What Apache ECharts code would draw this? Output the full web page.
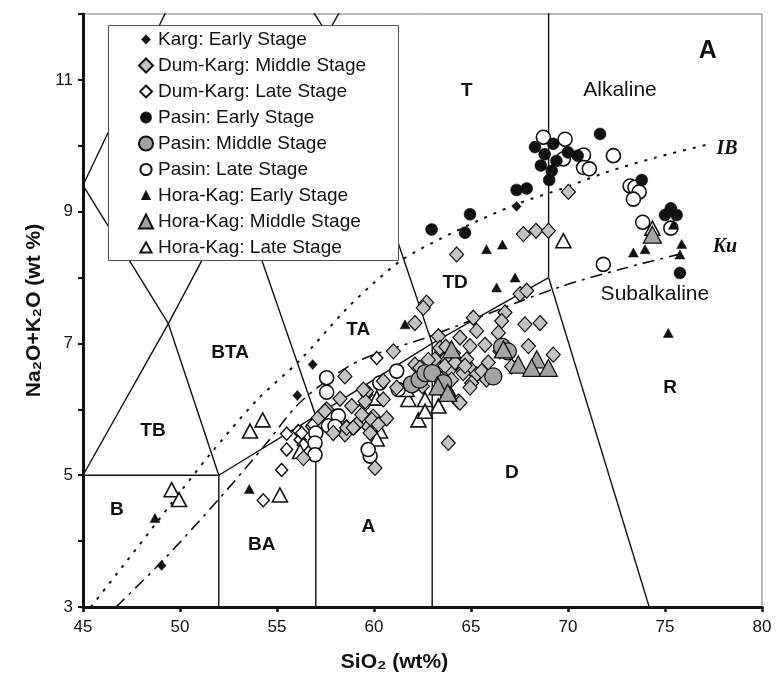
<!DOCTYPE html>
<html><head><meta charset="utf-8">
<script src="https://cdn.jsdelivr.net/npm/echarts@6/dist/echarts.min.js"></script>
<style>html,body{margin:0;padding:0;background:#fff}#c{width:778px;height:681px}</style>
</head><body><div id="c"></div>
<script>
// ---------- DATA ----------
const xTicks = [45, 50, 55, 60, 65, 70, 75, 80];
const yTicks = [3, 5, 7, 9, 11];

const kargEarly = [[49.05,3.63],[56.05,6.21],[56.84,6.68],[67.35,9.08]];

const dumKargMiddle = [[70.02,9.30],[67.70,8.66],[68.35,8.71],[68.99,8.71],[64.26,8.35],[62.71,7.62],[62.54,7.54],
 [67.53,7.75],[67.87,7.80],[62.11,7.31],[65.12,7.39],[65.29,7.19],[66.75,7.47],[66.58,7.34],[66.41,7.16],[67.78,7.29],
 [68.56,7.31],[63.32,7.11],[64.43,7.09],[64.95,6.96],[65.72,6.98],[67.96,6.96],[69.24,6.83],[63.40,6.93],[63.66,6.76],
 [64.26,6.71],[64.78,6.76],[65.03,6.60],[65.29,6.53],[65.55,6.58],[65.89,6.71],[65.80,6.45],[65.03,6.40],[64.95,6.33],
 [63.92,6.60],[63.32,6.63],[63.14,6.76],[63.40,6.48],[64.35,6.12],[66.49,6.88],[67.09,6.65],[63.83,5.49],[64.43,6.10],
 [61.00,6.88],[58.50,6.50],[58.85,6.05],[59.62,6.27],[59.54,6.12],[60.48,6.15],[59.96,5.89],[60.65,5.86],[59.71,5.74],
 [59.02,5.74],[58.50,5.62],[58.25,6.16],[59.37,5.92],[59.88,5.84],[60.22,5.77],[59.11,5.77],[58.59,5.72],[57.56,6.00],
 [57.13,5.87],[62.11,6.68],[60.48,6.43],[61.17,6.33],[59.45,6.30],[57.47,5.97],[59.80,5.64],[60.05,5.11],[58.93,5.72],
 [57.90,5.64],[56.36,5.26],[62.37,6.63],[63.70,6.95],[64.10,6.85],[64.60,6.55],[64.00,6.45],[62.80,6.75],[62.50,6.35],
 [63.66,6.66],[64.18,6.71],[64.69,6.66]];

const dumKargLate = [[54.29,4.62],[55.24,5.08],[55.50,5.39],[55.50,5.63],[56.10,5.67],[56.19,5.54],[60.14,6.78],
 [59.62,6.22],[59.54,6.07],[58.59,5.74],[56.27,5.64],[56.36,5.46],[56.79,5.74],[56.86,5.77]];

const pasinEarly = [[71.65,10.18],[68.30,9.98],[69.24,10.03],[68.80,9.87],[68.60,9.70],[69.40,9.77],[69.16,9.62],
 [69.03,9.48],[70.00,9.90],[70.50,9.85],[67.35,9.33],[67.87,9.35],[73.80,9.48],[75.77,8.07],[75.00,8.95],[75.60,8.95],
 [75.30,9.05],[62.97,8.73],[64.95,8.96],[64.69,8.68]];

const pasinMiddle = [[61.95,6.38],[62.35,6.45],[62.65,6.55],[63.00,6.55],[63.57,6.40],[66.15,6.50],[66.60,6.95],[66.90,6.88]];

const pasinLate = [[68.73,10.13],[69.85,10.10],[69.76,9.80],[70.80,9.86],[70.80,9.67],[71.10,9.65],[72.34,9.85],
 [73.20,9.39],[73.45,9.37],[73.67,9.30],[73.37,9.19],[73.85,8.84],[71.82,8.20],[75.30,8.75],[57.56,6.48],[57.56,6.26],
 [61.17,6.58],[60.30,6.40],[61.25,6.30],[58.16,5.90],[57.65,5.75],[57.00,5.64],[56.96,5.49],[56.96,5.31],[59.80,5.29],
 [59.70,5.39],[57.99,5.74]];

const horaEarly = [[73.37,8.38],[73.97,8.43],[75.86,8.51],[75.77,8.35],[67.27,8.00],[66.62,8.50],[75.43,8.80],
 [65.80,8.43],[66.32,7.85],[75.17,7.16],[61.60,7.29],[48.71,4.35],[53.57,4.79]];

const horaMiddle = [[64.00,6.91],[67.44,6.68],[68.39,6.76],[68.13,6.63],[68.99,6.63],[66.67,6.91],[63.30,6.35],
 [63.80,6.25],[74.35,8.65]];

const horaLate = [[49.57,4.78],[49.95,4.63],[53.61,5.67],[54.26,5.84],[55.15,4.70],[56.19,5.36],[60.14,6.17],
 [60.31,5.67],[60.14,5.55],[61.77,6.15],[62.29,5.84],[62.63,6.15],[62.63,5.97],[63.32,6.05],[63.40,6.33],[63.83,6.30],
 [61.68,6.30],[69.76,8.56],[74.35,8.75]];

// TAS field boundaries (Le Bas et al. 1986)
const tasLines = [
 [[45,5],[52,5],[57,5.9],[63,7],[69,8]],
 [[52,3],[52,5]],
 [[57,3],[57,5.9]],
 [[63,3],[63,7]],
 [[69,8],[69,13]],
 [[69,8],[77.3,0]],
 [[45,5],[49.4,7.3],[53,9.3],[57.6,11.7],[61,13.5]],
 [[52,5],[49.4,7.3],[45,9.4]],
 [[57,5.9],[53,9.3],[48.4,11.5]],
 [[63,7],[57.6,11.7],[52.5,14]],
 [[45,9.4],[48.4,11.5],[52.5,14]]
];
// Irvine & Baragar (IB) and Kuno (Ku) divides
const ibCurve = [[45.4,3.0],[47,3.6],[49.5,4.55],[51.5,5.3],[54,6.15],[56.2,6.75],[58.5,7.5],[60,7.92],[61.5,8.28],
 [63.5,8.6],[65.5,8.88],[67.5,9.13],[69.7,9.35],[72,9.6],[74.5,9.82],[77.2,10.02]];
const kuCurve = [[46.7,3.0],[49.1,3.7],[52.1,4.67],[54.5,5.5],[56,6.05],[57.5,6.42],[59.4,6.76],[62.7,7.09],
 [65,7.35],[69.5,7.85],[73,8.15],[76.1,8.38]];

const fieldNames = ['B','TB','BA','A','BTA','TA','TD','D','R','T'];
const fieldAnchors = [[46.74,4.48],[48.61,5.67],[54.21,3.94],[59.71,4.22],[52.58,6.86],[59.19,7.21],[64.18,7.92],[67.1,5.03],[75.26,6.33],[64.78,10.84]];
const seriesNames = ['Karg: Early Stage','Dum-Karg: Middle Stage','Dum-Karg: Late Stage','Pasin: Early Stage',
 'Pasin: Middle Stage','Pasin: Late Stage','Hora-Kag: Early Stage','Hora-Kag: Middle Stage','Hora-Kag: Late Stage'];

// ---------- CHART ----------
const SANS = "'Liberation Sans', Arial, sans-serif";
const SERIF = "'Liberation Serif','Times New Roman',serif";
const INK = '#111';
const chart = echarts.init(document.getElementById('c'), null, {renderer:'canvas'});

const series = [];
tasLines.forEach(pl => series.push({type:'line', data:pl, symbol:'none', silent:true, z:1,
  lineStyle:{color:INK, width:1.4}, animation:false}));
series.push({type:'line', data:ibCurve, symbol:'none', smooth:0.3, silent:true, z:1,
  lineStyle:{color:INK, width:2, type:[3,7]}, animation:false});
series.push({type:'line', data:kuCurve, symbol:'none', smooth:0.3, silent:true, z:1,
  lineStyle:{color:INK, width:1.6, type:[12,6,3,6]}, animation:false});

function sc(name, data, symbol, size, fill, bw){
  return {type:'scatter', name, data, symbol, symbolSize:size, z:3, animation:false,
    itemStyle:{color:fill, borderColor:INK, borderWidth:bw, opacity:1}};
}
const S = seriesNames;
series.push(sc(S[2], dumKargLate, 'diamond', [12,13], '#fff', 1.5));
series.push(sc(S[8], horaLate, 'triangle', [15,14], '#fff', 1.6));
series.push(sc(S[5], pasinLate, 'circle', 14, '#fff', 1.6));
series.push(sc(S[1], dumKargMiddle, 'diamond', [14,15], '#c3c3c3', 1.2));
series.push(sc(S[4], pasinMiddle, 'circle', 17, '#a3a3a3', 1.3));
series.push(sc(S[7], horaMiddle, 'triangle', [18,17], '#a3a3a3', 1.3));
series.push(sc(S[3], pasinEarly, 'circle', 12, '#111', 0.5));
series.push(sc(S[6], horaEarly, 'triangle', [10,9], '#111', 0.5));
series.push(sc(S[0], kargEarly, 'diamond', [9,10], '#111', 0.5));

// annotation labels (text anchored in data coordinates)
const lab = (name, value, style) => ({name, value,
  label:Object.assign({show:true, formatter:'{b}', position:'inside', color:'#111', opacity:1, textBorderWidth:0}, style)});
const annot = fieldNames.map((n,i) => lab(n, fieldAnchors[i], {fontSize:19, fontWeight:'bold', fontFamily:SANS}));
annot.push(lab('Alkaline', [72.68,10.84], {fontSize:21, fontFamily:SANS}));
annot.push(lab('Subalkaline', [74.48,7.75], {fontSize:21, fontFamily:SANS}));
annot.push(lab('IB', [78.2,9.95], {fontSize:20, fontWeight:'bold', fontStyle:'italic', fontFamily:SERIF}));
annot.push(lab('Ku', [78.09,8.46], {fontSize:20, fontWeight:'bold', fontStyle:'italic', fontFamily:SERIF}));
annot.push(lab('A', [77.2,11.43], {fontSize:25, fontWeight:'bold', fontFamily:SANS}));
series.push({type:'scatter', data:annot, symbolSize:0, itemStyle:{color:'#111', opacity:1}, silent:true, z:5, animation:false});

const small = (d) => 'path://M0,0M20,20' + d;
const legendData = [
  {name:S[0], icon: small('M10,5L15,10L10,15L5,10Z')},
  {name:S[1], icon:'diamond'},
  {name:S[2], icon: small('M10,1.5L18.5,10L10,18.5L1.5,10Z')},
  {name:S[3], icon: small('M10,3A7,7 0 1 1 9.99,3Z')},
  {name:S[4], icon:'circle'},
  {name:S[5], icon: small('M10,2A8,8 0 1 1 9.99,2Z')},
  {name:S[6], icon: small('M10,5L15,15L5,15Z')},
  {name:S[7], icon:'triangle'},
  {name:S[8], icon: small('M10,2.5L18,17L2,17Z')}
];

chart.setOption({
  animation:false,
  backgroundColor:'#fff',
  grid:{left:83, right:16, top:14, bottom:74, show:true, borderColor:'#777', borderWidth:1, containLabel:false},
  xAxis:{type:'value', min:45, max:80, interval:5,
    name:'SiO\u2082 (wt%)', nameLocation:'middle', nameGap:45,
    nameTextStyle:{fontSize:21, fontWeight:'bold', fontFamily:SANS, color:INK, padding:[0,56,0,0]},
    axisLine:{show:true, onZero:false, lineStyle:{color:INK, width:3}},
    axisTick:{show:true, inside:false, length:5, lineStyle:{color:INK, width:2.5}},
    axisLabel:{fontSize:17, color:INK, fontFamily:SANS, margin:12, formatter:v => xTicks.includes(v) ? String(v) : ''},
    splitLine:{show:false}},
  yAxis:{type:'value', min:3, max:12, interval:1,
    name:'Na\u2082O+K\u2082O (wt %)', nameLocation:'middle', nameGap:36,
    nameTextStyle:{fontSize:21, fontWeight:'bold', fontFamily:SANS, color:INK},
    axisLine:{show:true, onZero:false, lineStyle:{color:INK, width:3}},
    axisTick:{show:true, inside:false, length:5, lineStyle:{color:INK, width:2}},
    axisLabel:{fontSize:17, color:INK, fontFamily:SANS, margin:10, formatter:v => yTicks.includes(v) ? String(v) : ''},
    splitLine:{show:false}},
  legend:{orient:'vertical', left:108, top:27, padding:[3,10,3,30], itemWidth:14, itemHeight:14, itemGap:7,
    textStyle:{fontSize:19, color:INK, fontFamily:SANS}, data:legendData, selectedMode:false, z:10},
  graphic:{elements:[{type:'rect', shape:{x:108.5, y:25.5, width:290, height:235},
    style:{fill:'#fff', stroke:'#555', lineWidth:1}, z:8, silent:true}]},
  series
});
</script></body></html>
